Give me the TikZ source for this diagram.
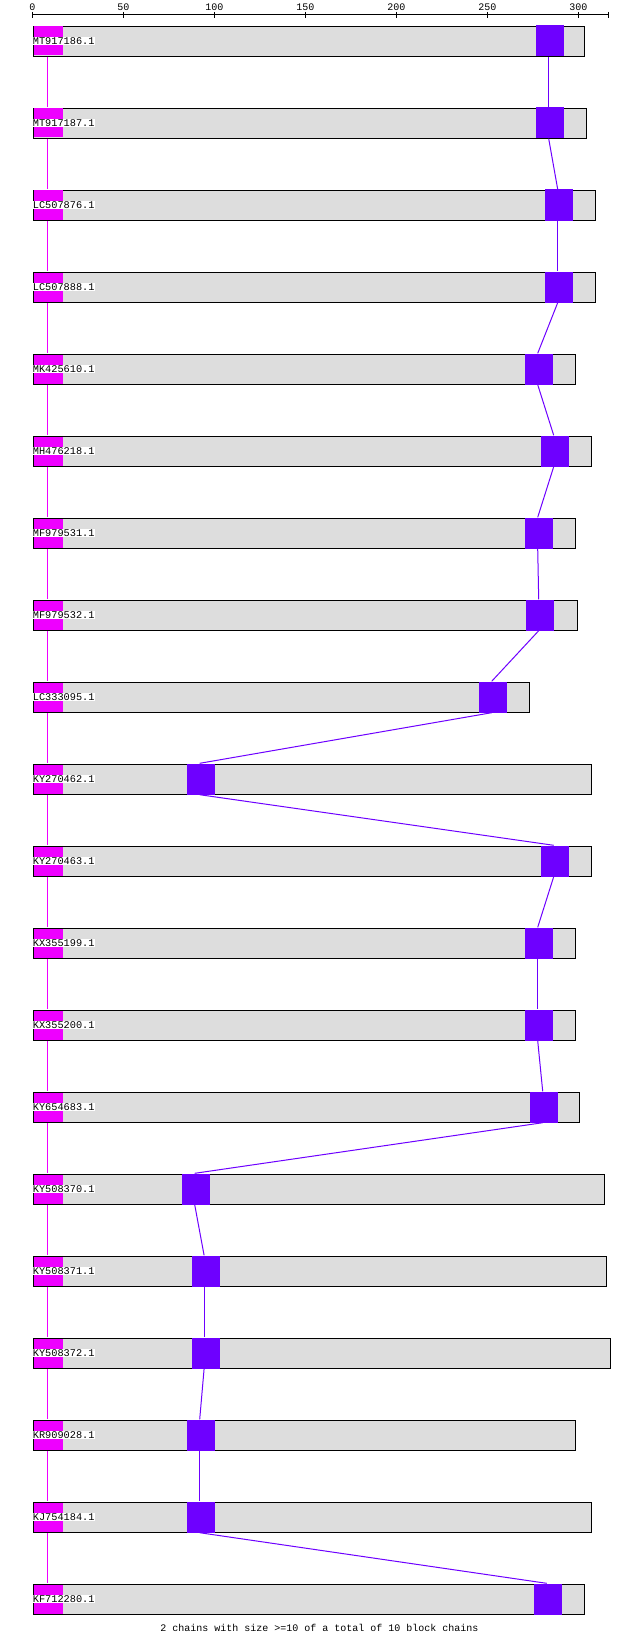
\documentclass[tikz,border=0pt]{standalone}
\usepackage{fontspec}
\newfontfamily\pixmono{Liberation Mono}
\definecolor{barfill}{RGB}{221,221,221}
\definecolor{mag}{RGB}{238,0,255}
\definecolor{pur}{RGB}{110,0,255}
\begin{document}
\begin{tikzpicture}[x=1pt,y=-1pt,
  axisline/.style={draw=black,line width=1pt},
  ticklbl/.style={inner sep=0pt,anchor=base,font=\pixmono\fontsize{10}{12}\selectfont},
  barbox/.style={draw=black,line width=1pt,fill=barfill,inner sep=0pt,anchor=north west,minimum height=30pt},
  magblock/.style={fill=mag,inner sep=0pt,anchor=north west,minimum width=29.7pt,minimum height=29pt},
  purblock/.style={fill=pur,inner sep=0pt,anchor=north west,minimum width=28pt,minimum height=31pt},
  seqlbl/.style={fill=white,inner xsep=0.3pt,inner ysep=0.5pt,text height=6.6pt,text depth=0.4pt,anchor=west,font=\pixmono\fontsize{10.27}{12}\selectfont},
  magline/.style={draw=mag,line width=1pt},
  purline/.style={draw=pur,line width=1pt},
  caption/.style={inner sep=0pt,font=\pixmono\fontsize{10}{12}\selectfont}]
\path[fill=white] (0,0) rectangle (640,1640);
\useasboundingbox (0,0) rectangle (640,1640);
% axis
\draw[axisline] (32.3,15) -- (608.3,15);
\foreach \v in {0,50,...,300} {
  \draw[axisline] (32.3+\v*1.82,12) -- (32.3+\v*1.82,18);
  \node[ticklbl] (t\v) at (32.3+\v*1.82,11) {\v};
}
\draw[axisline] (608.3,12) -- (608.3,18);
% bars
\foreach \i/\r/\p/\nm in {
 1/584.3/536/MT917186.1,
 2/586.3/536/MT917187.1,
 3/595.3/545/LC507876.1,
 4/595.3/545/LC507888.1,
 5/575.3/525/MK425610.1,
 6/591.7/541/MH476218.1,
 7/575.3/525/MF979531.1,
 8/577.3/526/MF979532.1,
 9/529.3/479/LC333095.1,
 10/591.7/187/KY270462.1,
 11/591.7/541/KY270463.1,
 12/575.3/525/KX355199.1,
 13/575.3/525/KX355200.1,
 14/579.3/530/KY654683.1,
 15/604.3/182/KY508370.1,
 16/606.3/191.4/KY508371.1,
 17/610.3/191.4/KY508372.1,
 18/575.3/187/KR909028.1,
 19/591.3/187/KJ754184.1,
 20/584.3/534/KF712280.1} {
  \pgfmathsetmacro\tp{25.3+(\i-1)*82}
  \pgfmathsetmacro\w{\r-33.3}
  \node[barbox,minimum width=\w pt] (b\i) at (32.8,\tp+0.5) {};
  \node[magblock] (m\i) at (33.3,\tp+1) {};
  \node[purblock] (p\i) at (\p,\tp) {};
  \node[seqlbl] (l\i) at (32.4,\tp+15.7) {\nm};
}
% connectors
\foreach \i [evaluate=\i as \j using int(\i+1)] in {1,...,19} {
  \draw[magline] ([xshift=-0.65pt,yshift=-1pt]m\i.south) -- ([xshift=-0.65pt,yshift=1pt]m\j.north);
  \draw[purline] ([xshift=-1.5pt]p\i.south) -- ([xshift=-1.5pt]p\j.north);
}
\node[caption] (cap) at (319.4,1628.3) {2 chains with size >=10 of a total of 10 block chains};
\end{tikzpicture}
\end{document}
